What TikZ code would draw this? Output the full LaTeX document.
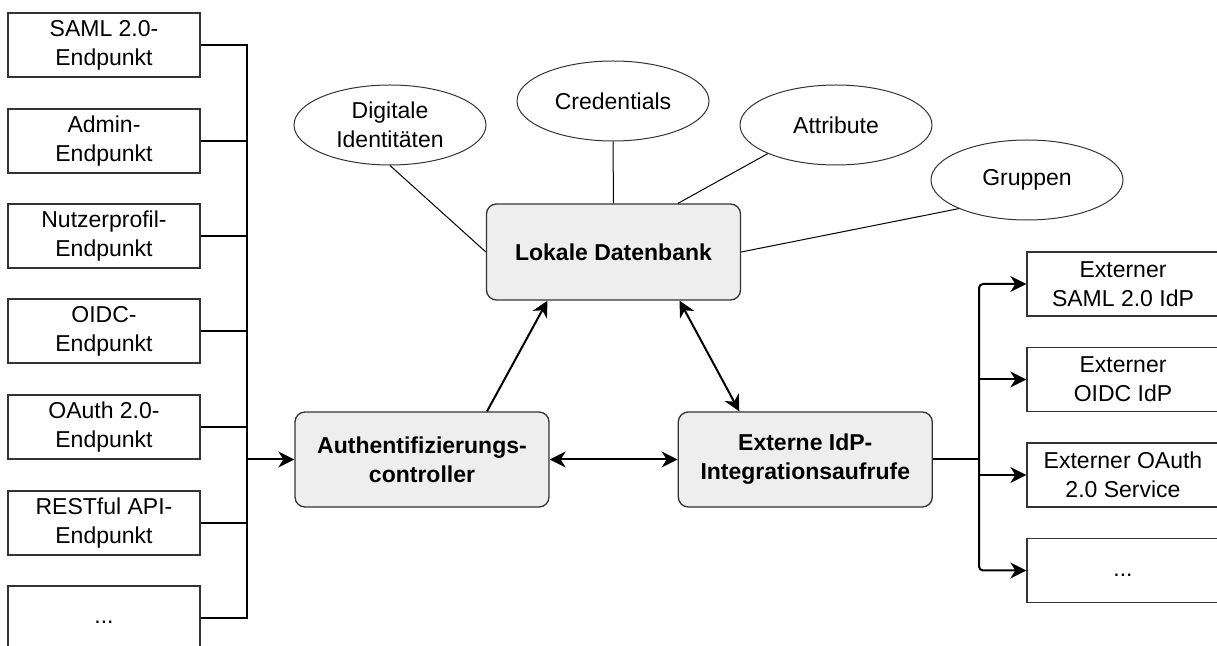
\documentclass[tikz,border=0pt]{standalone}
\usepackage{fontspec}
\setmainfont{Liberation Sans}
\usetikzlibrary{arrows.meta,positioning,shapes.geometric}
\definecolor{grau}{HTML}{EEEEEE}
\definecolor{rand}{HTML}{333333}

\begin{document}
\fontsize{11.5}{14.5}\selectfont
\begin{tikzpicture}[>={Stealth[length=8pt,width=8pt,inset=2.5pt]},x=0.5pt,y=-0.5pt,
  ep/.style={draw=rand,line width=0.65pt,minimum width=96pt,minimum height=32pt,inner sep=1pt,align=center},
  k/.style={draw=rand,line width=0.65pt,rounded corners=5pt,fill=grau,minimum width=127pt,minimum height=47.5pt,align=center,font=\bfseries},
  el/.style={draw=rand,ellipse,line width=0.5pt,minimum width=96pt,minimum height=40pt,inner sep=1pt,align=center},
  pf/.style={line width=1pt}]
\useasboundingbox (0,0) rectangle (1217,646);
% Endpunkte links
\node[ep] (e1) at (104,45) {SAML 2.0-\\Endpunkt};
\node[ep] (e2) at (104,141) {Admin-\\Endpunkt};
\node[ep] (e3) at (104,236) {Nutzerprofil-\\Endpunkt};
\node[ep] (e4) at (104,331) {OIDC-\\Endpunkt};
\node[ep] (e5) at (104,427) {OAuth 2.0-\\Endpunkt};
\node[ep] (e6) at (104,523) {RESTful API-\\Endpunkt};
\node[ep] (e7) at (104,618) {\vphantom{Ag}...};
% Kern
\node[k] (auth) at (422,459.5) {Authentifizierungs-\\controller};
\node[k,right=64pt of auth] (ext) {Externe IdP-\\Integrationsaufrufe};
\node[k,minimum height=48pt] (db) at (613.5,252) {Lokale Datenbank};
% Daten
\node[el] (dig) at (390,125) {Digitale\\Identitäten};
\node[el] (cred) at (613,101) {Credentials};
\node[el] (attr) at (836,125) {Attribute};
\node[el] (grp) at (1027,180) {Gruppen};
% externe IdPs rechts
\node[ep] (x1) at (1123,284) {Externer\\SAML 2.0 IdP};
\node[ep] (x2) at (1123,379.5) {Externer\\OIDC IdP};
\node[ep] (x3) at (1123,475) {Externer OAuth\\2.0 Service};
\node[ep] (x4) at (1123,570.5) {\vphantom{Ag}...};
\coordinate (lb) at (247,459.5);
\coordinate (rb) at (979,459.5);
\draw[pf] (e1.east) -| (lb); \draw[pf] (e2.east) -| (lb); \draw[pf] (e3.east) -| (lb);
\draw[pf] (e4.east) -| (lb); \draw[pf] (e5.east) -| (lb); \draw[pf] (e6.east) -| (lb);
\draw[pf] (e7.east) -| (lb);
\draw[pf,->] (lb) -- (auth.west);
\draw[pf,->] ([xshift=32.5pt]auth.north) -- ([xshift=-33pt]db.south);
\draw[pf,<->] ([xshift=33pt]db.south) -- ([xshift=-33pt]ext.north);
\draw[pf,<->] (auth.east) -- (ext.west);
\draw[line width=0.5pt] (dig.south) -- (db.west); \draw[line width=0.5pt] (cred.south) -- (db.north);
\draw[line width=0.5pt] (attr.south west) -- ([xshift=32.25pt]db.north);
\draw[line width=0.5pt] (grp.south west) -- (db.east);
\draw[pf] (ext.east) -- (rb);
\draw[pf,->,rounded corners=2pt] (rb) |- (x1.west); \draw[pf,->] (rb) |- (x2.west);
\draw[pf,->] (rb) |- (x3.west); \draw[pf,->,rounded corners=2pt] (rb) |- (x4.west);
\end{tikzpicture}
\end{document}
